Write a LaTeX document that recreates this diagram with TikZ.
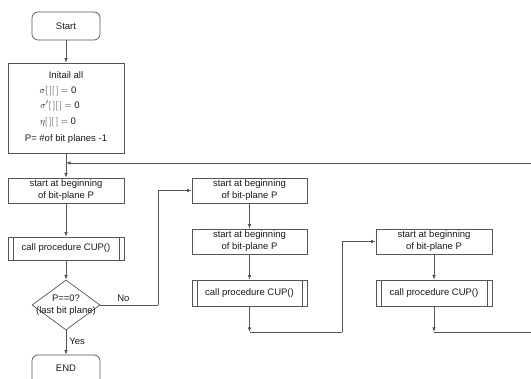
\documentclass[tikz,border=0pt]{standalone}
\usepackage{fontspec}
\setmainfont{Liberation Sans}
\usetikzlibrary{shapes.geometric,arrows.meta}
\definecolor{linecol}{HTML}{555555}
\definecolor{txtcol}{HTML}{1A1A1A}
\tikzset{
  every node/.style={text=txtcol,font=\fontsize{9.5}{12}\selectfont},
  conn/.style={draw=linecol,line width=0.7pt},
  arr/.style={conn,-{Latex[length=4.5pt,width=3.5pt]}},
  term/.style={draw=linecol,line width=0.7pt,rounded corners=6pt,minimum width=68pt,inner sep=0pt},
  procbox/.style={draw=linecol,line width=0.7pt,rectangle,inner sep=0pt,align=center},
  subproc/.style={procbox,
    path picture={\draw[linecol,line width=0.7pt]
      ([xshift=5pt]path picture bounding box.north west) -- ([xshift=5pt]path picture bounding box.south west)
      ([xshift=-5pt]path picture bounding box.north east) -- ([xshift=-5pt]path picture bounding box.south east);}},
  decision/.style={draw=linecol,line width=0.7pt,diamond,minimum width=68pt,minimum height=50pt,inner sep=0pt},
  lbl/.style={inner sep=0pt}
}
\begin{document}
\begin{tikzpicture}[x=1pt,y=-1pt]
\useasboundingbox (0,0) rectangle (531,379);
% column 1
\node[term,minimum height=28pt] (start) at (66,26) {Start};
\node[procbox,minimum width=116pt,minimum height=90pt] (init) at (66,108) {};
\node[lbl] (t1) at (66,75) {Initail all};
\node[lbl] (t2) at (58,91) {$\sigma[\,][\,]=\mathrm{0}$};
\node[lbl] (t3) at (60,106) {$\sigma'[\,][\,]=\mathrm{0}$};
\node[lbl] (t4) at (58,122) {$\eta[\,][\,]=\mathrm{0}$};
\node[lbl] (t5) at (66,139) {P= \#of bit planes -1};
\node[procbox,minimum width=116pt,minimum height=25pt] (s1) at (66,190.5) {start at beginning\\of bit-plane P};
\node[subproc,minimum width=116pt,minimum height=23pt] (c1) at (66,248.5) {call procedure CUP()};
\node[decision] (d) at (66,305) {};
\node[lbl] (dl1) at (66,298) {P==0?};
\node[lbl] (dl2) at (66,311) {(last bit plane)};
\node[term,minimum height=34pt] (end) at (66,372) {};
\node[lbl] (endt) at (66,368) {END};
% column 2
\node[procbox,minimum width=115pt,minimum height=25pt] (b21) at (249.5,190.5) {start at beginning\\of bit-plane P};
\node[procbox,minimum width=115pt,minimum height=25pt] (b22) at (249.5,241.5) {start at beginning\\of bit-plane P};
\node[subproc,minimum width=115pt,minimum height=26pt] (c2) at (249.5,293) {call procedure CUP()};
% column 3
\node[procbox,minimum width=116pt,minimum height=25pt] (b31) at (434,241.5) {start at beginning\\of bit-plane P};
\node[subproc,minimum width=116pt,minimum height=26pt] (c3) at (434,293) {call procedure CUP()};
% junctions
\coordinate (m) at (66,163);
\coordinate (j2) at (249.5,332);
\coordinate (j3) at (434,332);
\coordinate (r2) at (342,332);
\coordinate (r3) at (533,332);
\coordinate (r3t) at (533,163);
\coordinate (dn) at (158,305);
% connectors
\draw[arr] (start) -- (init);
\draw[arr] (init) -- (s1);
\draw[arr] (s1) -- (c1);
\draw[arr] (c1) -- (d);
\draw[arr] (d.south) -- node[right,pos=0.45,inner sep=3pt] {Yes} (end.north);
\draw[conn] (d.east) -- node[above,pos=0.4,inner sep=3pt] {No} (dn);
\draw[arr] (dn) |- (b21.west);
\draw[arr] (b21) -- (b22);
\draw[arr] (b22) -- (c2);
\draw[arr] (c2) -- (j2);
\draw[conn] (j2) -- (r2);
\draw[arr] (r2) |- (b31.west);
\draw[arr] (b31) -- (c3);
\draw[arr] (c3) -- (j3);
\draw[conn] (j3) -- (r3) -- (r3t);
\draw[arr] (r3t) -- (m);
\end{tikzpicture}
\end{document}
